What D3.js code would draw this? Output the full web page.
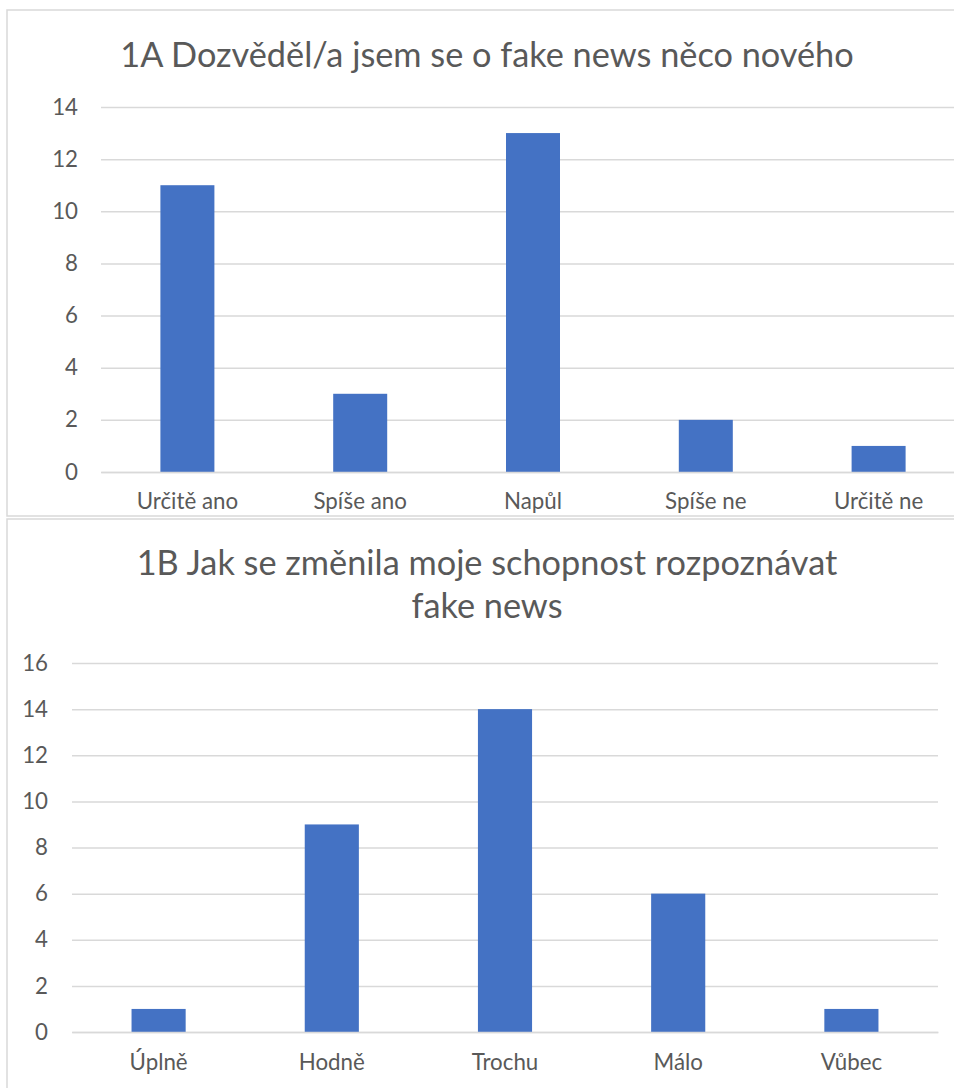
<!DOCTYPE html>
<html><head><meta charset="utf-8">
<script src="https://cdn.jsdelivr.net/npm/d3@7"></script>
<style>
html,body{margin:0;padding:0;background:#fff;overflow:hidden;}
svg{display:block;}
text{font-family:Lato,"Noto Sans",sans-serif;fill:#595959;}
</style></head>
<body>
<script>
const categoriesA = ["Určitě ano","Spíše ano","Napůl","Spíše ne","Určitě ne"];
const valuesA = [11,3,13,2,1];
const ticksA = [0,2,4,6,8,10,12,14];
const titleA = ["1A Dozvěděl/a jsem se o fake news něco nového"];

const categoriesB = ["Úplně","Hodně","Trochu","Málo","Vůbec"];
const valuesB = [1,9,14,6,1];
const ticksB = [0,2,4,6,8,10,12,14,16];
const titleB = ["1B Jak se změnila moje schopnost rozpoznávat","fake news"];

const W = 954, H = 1088;
const svg = d3.select("body").append("svg").attr("width",W).attr("height",H);

function chart(cfg){
  const g = svg.append("g");
  g.append("rect").attr("x",cfg.fx).attr("y",cfg.fy).attr("width",cfg.fw).attr("height",cfg.fh)
    .attr("fill","#fff").attr("stroke","#d9d9d9").attr("stroke-width",1.5);
  cfg.title.forEach((t,i)=>{
    g.append("text").attr("x",cfg.fx+cfg.fw/2).attr("y",cfg.titleY+i*cfg.titleLH)
      .attr("text-anchor","middle").style("font-size",cfg.titleSize+"px").text(t);
  });
  const x = d3.scaleBand().domain(cfg.cats).range([cfg.x0,cfg.x1]).paddingInner(0.6875).paddingOuter(0.34375);
  const y = d3.scaleLinear().domain([0,cfg.max]).range([cfg.y0,cfg.y1]);
  const yAxis = d3.axisLeft(y).tickValues(cfg.ticks).tickSize(-(cfg.x1-cfg.x0)).tickPadding(cfg.tickPad).tickFormat(d3.format("d"));
  const ya = g.append("g").attr("transform",`translate(${cfg.x0},0)`).call(yAxis);
  ya.select(".domain").remove();
  ya.selectAll(".tick line").attr("stroke","#d9d9d9").attr("stroke-width",1.5);
  ya.selectAll(".tick text").attr("fill","#595959").style("font-size",cfg.axisSize+"px").style("font-family","Lato,'Noto Sans',sans-serif");
  g.selectAll("rect.bar").data(cfg.vals).join("rect").attr("class","bar")
    .attr("x",(d,i)=>x(cfg.cats[i])).attr("width",x.bandwidth())
    .attr("y",d=>y(d)).attr("height",d=>y(0)-y(d)).attr("fill","#4472c4");
  const xAxis = d3.axisBottom(x).tickSize(0).tickPadding(0);
  const xa = g.append("g").attr("transform",`translate(0,${cfg.y0})`).call(xAxis);
  xa.select(".domain").attr("stroke","#d9d9d9").attr("stroke-width",1.5);
  xa.selectAll(".tick text").attr("fill","#595959").attr("dy",0).attr("y",cfg.xLabelDy)
    .style("font-size",cfg.axisSize+"px").style("font-family","Lato,'Noto Sans',sans-serif");
}

chart({fx:7,fy:10,fw:960,fh:506,title:titleA,titleY:67,titleLH:0,titleSize:34.3,
  cats:categoriesA,vals:valuesA,ticks:ticksA,max:14,x0:101,x1:965,y0:472,y1:107,tickPad:23,axisSize:22.3,xLabelDy:37});
chart({fx:7,fy:519,fw:960,fh:600,title:titleB,titleY:575,titleLH:43,titleSize:34.3,
  cats:categoriesB,vals:valuesB,ticks:ticksB,max:16,x0:72,x1:938,y0:1032,y1:663,tickPad:24,axisSize:22.3,xLabelDy:38});
</script>
</body></html>
